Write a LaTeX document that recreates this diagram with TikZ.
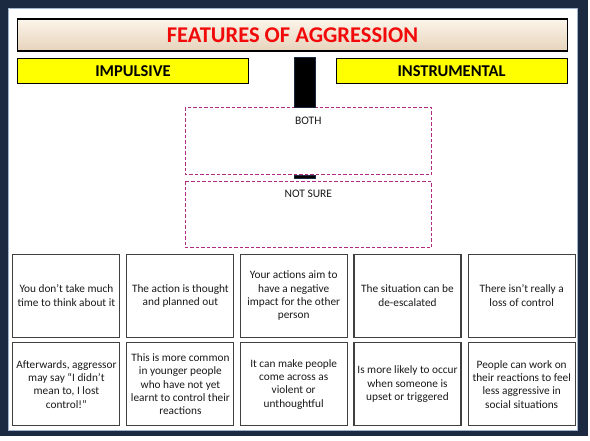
\documentclass[tikz,border=0pt]{standalone}
\usepackage{fontspec}
\setmainfont{Carlito}
\definecolor{framec}{HTML}{1B2A41}
\definecolor{innerline}{HTML}{9DB3CF}
\definecolor{titletop}{HTML}{FCF5EA}
\definecolor{titlebot}{HTML}{E6D3BB}
\definecolor{titlered}{HTML}{F20A0A}
\definecolor{yel}{HTML}{FFFF00}
\definecolor{dashc}{HTML}{B02A80}
\definecolor{cardline}{HTML}{404040}
\definecolor{txt}{HTML}{1A1A1A}
\tikzset{
  titlebox/.style={draw=black, line width=1.6pt, top color=titletop, bottom color=titlebot, inner sep=0pt, minimum width=550pt, minimum height=32pt, font=\fontsize{22.5}{26}\selectfont\bfseries, text=titlered},
  headbox/.style={draw=black, line width=0.9pt, fill=yel, inner sep=0pt, minimum width=231pt, minimum height=25pt, font=\fontsize{16.5}{19}\selectfont\bfseries, text=black},
  barbox/.style={draw=framec, line width=0.5pt, fill=black, inner sep=0pt},
  dashbox/.style={inner sep=0pt, minimum width=246pt},
  dashline/.style={draw=dashc, dash pattern=on 3.5pt off 2pt, line width=1.3pt},
  lbl/.style={font=\fontsize{11.5}{13}\selectfont, text=txt, inner sep=0pt},
  card/.style={draw=cardline, line width=1.1pt, inner sep=0pt, minimum width=107pt, minimum height=83pt, align=center, font=\fontsize{11.3}{13.3}\selectfont, text=txt}
}
\begin{document}
\begin{tikzpicture}[x=1pt,y=-1pt]
\useasboundingbox (0,0) rectangle (590,440);
\fill[white] (0,0) rectangle (590,440);
\fill[framec] (0,0) rectangle (588,436);
\filldraw[fill=white, draw=innerline, line width=0.8pt] (8.5,8.5) rectangle (577.5,430);
% title and headers
\node[titlebox] (title) at (292.5,35) {FEATURES OF AGGRESSION};
\node[headbox] (imp) at (133,71) {IMPULSIVE};
\node[headbox] (ins) at (451.5,71) {INSTRUMENTAL};
% dashed boxes
\node[dashbox, minimum height=67pt] (both) at (308.5,141) {};
\node[dashbox, minimum height=66pt] (ns) at (308.5,214.5) {};
\draw[dashline] (both.north west) rectangle (both.south east);
\draw[dashline] (ns.north west) rectangle (ns.south east);
\node[lbl] (bothl) at (308.3,121) {BOTH};
\node[lbl] (nsl) at (308.3,194) {NOT SURE};
% bars
\node[barbox, minimum width=21pt, minimum height=50pt] (bar1) at (305,82) {};
\node[barbox, minimum width=21pt, minimum height=3pt] (bar2) at (305,177) {};
% cards row 1
\node[card] (c11) at (66.4,295.7) {You don’t take much\\time to think about it};
\node[card] (c12) at (180.4,295.7) {The action is thought\\and planned out};
\node[card] (c13) at (293.7,295.7) {Your actions aim to\\have a negative\\impact for the other\\person};
\node[card] (c14) at (407.5,295.7) {The situation can be\\de-escalated};
\node[card] (c15) at (521.7,295.7) {There isn’t really a\\loss of control};
% cards row 2
\node[card] (c21) at (66.4,384.2) {Afterwards, aggressor\\may say “I didn’t\\mean to, I lost\\control!”};
\node[card] (c22) at (180.4,384.2) {This is more common\\in younger people\\who have not yet\\learnt to control their\\reactions};
\node[card] (c23) at (293.7,384.2) {It can make people\\come across as\\violent or\\unthoughtful};
\node[card] (c24) at (407.5,384.2) {Is more likely to occur\\when someone is\\upset or triggered};
\node[card] (c25) at (521.7,384.2) {People can work on\\their reactions to feel\\less aggressive in\\social situations};
\end{tikzpicture}
\end{document}
